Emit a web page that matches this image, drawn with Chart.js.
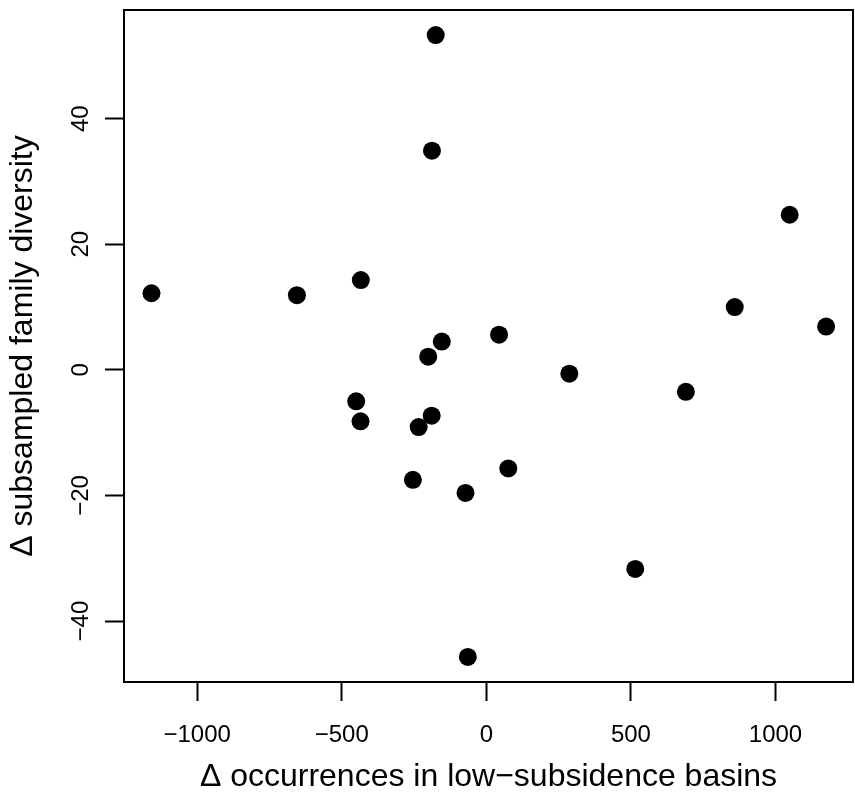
<!DOCTYPE html>
<html>
<head>
<meta charset="utf-8">
<script src="https://cdn.jsdelivr.net/npm/chart.js@4"></script>
<style>
  html, body { margin: 0; padding: 0; background: #fff; }
  #c { display: block; }
</style>
</head>
<body>
<canvas id="c" width="855" height="796"></canvas>
<script>
// change in occurrences (x) and subsampled diversity (y), one entry per point
const occurrencesDelta = [
  -175, -188, -1158, -655, -434, -154, -201, 44, 1049, 859, 1175,
  287, 690, -450, -435, -189, -234, -254, -72, -64, 76, 515
];
const diversityDelta = [
  53.3, 34.9, 12.2, 11.9, 14.3, 4.5, 2.1, 5.6, 24.7, 10.0, 6.9,
  -0.6, -3.5, -5.0, -8.2, -7.3, -9.1, -17.5, -19.6, -45.7, -15.7, -31.7
];

const xTicks = [-1000, -500, 0, 500, 1000];
const yTicks = [-40, -20, 0, 20, 40];

const xTitle = '\u0394 occurrences in low\u2212subsidence basins';
const yTitle = '\u0394 subsampled family diversity';

const FONT = '"Liberation Sans", Arial, Helvetica, sans-serif';

const points = occurrencesDelta.map((x, i) => ({ x, y: diversityDelta[i] }));

const fmt = (v) => (v < 0 ? '\u2212' + Math.abs(v) : String(v));

// no extra edge padding from the tick labels
const noPad = (s) => {
  s.paddingTop = 0;
  s.paddingBottom = 0;
  s.paddingLeft = 0;
  s.paddingRight = 0;
};

// plot frame like R's box()
const boxPlugin = {
  id: 'box',
  afterDraw(chart) {
    const { ctx, chartArea: a } = chart;
    ctx.save();
    ctx.strokeStyle = '#000';
    ctx.lineWidth = 2;
    ctx.strokeRect(a.left, a.top, a.right - a.left, a.bottom - a.top);
    ctx.restore();
  }
};

new Chart(document.getElementById('c').getContext('2d'), {
  type: 'scatter',
  data: {
    datasets: [{
      data: points,
      pointRadius: 9,
      pointHoverRadius: 9,
      pointBackgroundColor: '#000',
      pointBorderWidth: 0,
      showLine: false
    }]
  },
  options: {
    responsive: false,
    animation: false,
    events: [],
    layout: { autoPadding: false, padding: { top: 10, right: 2, left: 0, bottom: 0 } },
    plugins: { legend: { display: false }, tooltip: { enabled: false } },
    scales: {
      x: {
        type: 'linear',
        min: -1253,
        max: 1268,
        afterBuildTicks: (s) => { s.ticks = xTicks.map((v) => ({ value: v })); },
        afterFit: (s) => { s.height = 114; noPad(s); },
        border: { display: false },
        grid: {
          drawOnChartArea: false,
          drawTicks: true,
          tickLength: 19,
          tickWidth: 2,
          tickColor: '#000'
        },
        ticks: {
          autoSkip: false,
          maxRotation: 0,
          padding: 20,
          color: '#000',
          font: { family: FONT, size: 24 },
          callback: fmt
        },
        title: {
          display: true,
          text: xTitle,
          color: '#000',
          font: { family: FONT, size: 32 },
          padding: { top: 0, bottom: 0 }
        }
      },
      y: {
        type: 'linear',
        min: -49.7,
        max: 57.3,
        afterBuildTicks: (s) => { s.ticks = yTicks.map((v) => ({ value: v })); },
        afterFit: (s) => { s.width = 124; noPad(s); },
        border: { display: false },
        grid: {
          drawOnChartArea: false,
          drawTicks: true,
          tickLength: 19,
          tickWidth: 2,
          tickColor: '#000'
        },
        ticks: {
          autoSkip: false,
          minRotation: 90,
          maxRotation: 90,
          crossAlign: 'center',
          padding: 3,
          color: '#000',
          font: { family: FONT, size: 24 },
          callback: fmt
        },
        title: {
          display: true,
          text: yTitle,
          color: '#000',
          font: { family: FONT, size: 32 },
          padding: { top: 4, bottom: 0 }
        }
      }
    }
  },
  plugins: [boxPlugin]
});
</script>
</body>
</html>
